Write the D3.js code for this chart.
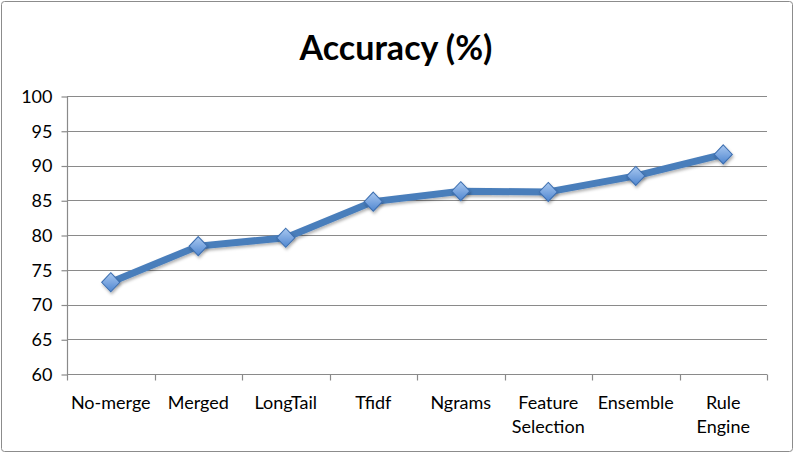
<!DOCTYPE html>
<html>
<head>
<meta charset="utf-8">
<script src="https://cdn.jsdelivr.net/npm/d3@7"></script>
<style>
  body { margin: 0; background: #fff; }
  svg text { font-family: Lato, "Open Sans", sans-serif; fill: #000; }
</style>
</head>
<body>
<script>
var categories = ["No-merge", "Merged", "LongTail", "Tfidf", "Ngrams", "Feature Selection", "Ensemble", "Rule Engine"];
var accuracy = [73.2, 78.4, 79.6, 84.8, 86.3, 86.2, 88.5, 91.6];
var yTicks = [60, 65, 70, 75, 80, 85, 90, 95, 100];

var width = 794, height = 453;
var plotLeft = 67, plotRight = 767, plotTop = 96, plotBottom = 374;

var svg = d3.select("body").append("svg")
    .attr("width", width)
    .attr("height", height);

var defs = svg.append("defs");
var grad = defs.append("linearGradient")
    .attr("id", "mk").attr("x1", 0).attr("y1", 0).attr("x2", 0).attr("y2", 1);
grad.append("stop").attr("offset", "0%").attr("stop-color", "#a9c8f0");
grad.append("stop").attr("offset", "100%").attr("stop-color", "#4f86d0");
var shadow = defs.append("filter").attr("id", "sh")
    .attr("x", "-50%").attr("y", "-50%").attr("width", "200%").attr("height", "200%");
shadow.append("feDropShadow").attr("dx", 1).attr("dy", 2).attr("stdDeviation", 1.5)
    .attr("flood-color", "#000").attr("flood-opacity", 0.3);

// outer frame
svg.append("rect")
    .attr("x", 1.5).attr("y", 1.5)
    .attr("width", width - 3).attr("height", height - 3)
    .attr("rx", 3)
    .attr("fill", "#fff").attr("stroke", "#8c8c8c");

var x = d3.scaleBand().domain(categories).range([plotLeft, plotRight]);
var y = d3.scaleLinear().domain([60, 100]).range([plotBottom, plotTop]);

// gridlines
svg.append("g").selectAll("line")
    .data(yTicks.slice(1))
    .enter().append("line")
    .attr("x1", plotLeft).attr("x2", plotRight)
    .attr("y1", function (d) { return Math.round(y(d)) + 0.5; })
    .attr("y2", function (d) { return Math.round(y(d)) + 0.5; })
    .attr("stroke", "#8a8a8a").attr("stroke-width", 1.2);

// y axis
var yAxis = svg.append("g")
    .attr("transform", "translate(" + (plotLeft + 0.5) + ",0.5)")
    .call(d3.axisLeft(y).tickValues(yTicks).tickSize(6).tickPadding(9));
yAxis.selectAll("line, path").attr("stroke", "#8a8a8a").attr("stroke-width", 1.2);
yAxis.selectAll("text").style("font-size", "18px").style("font-family", "Lato, sans-serif");
yAxis.select(".domain").attr("d", "M0," + plotTop + "V" + plotBottom);

// x axis with ticks at band boundaries
var xAxisG = svg.append("g").attr("transform", "translate(0," + (plotBottom + 0.5) + ")");
xAxisG.append("line")
    .attr("x1", plotLeft).attr("x2", plotRight)
    .attr("stroke", "#8a8a8a").attr("stroke-width", 1.2);
var bounds = categories.map(function (c) { return x(c); }).concat([plotRight]);
xAxisG.selectAll(".tk").data(bounds).enter().append("line")
    .attr("class", "tk")
    .attr("x1", function (d) { return Math.round(d) + 0.5; })
    .attr("x2", function (d) { return Math.round(d) + 0.5; })
    .attr("y1", 0).attr("y2", 6)
    .attr("stroke", "#8a8a8a").attr("stroke-width", 1.2);

var labels = xAxisG.selectAll(".lbl").data(categories).enter().append("text")
    .attr("class", "lbl")
    .attr("text-anchor", "middle")
    .style("font-size", "18px")
    .attr("transform", function (d) { return "translate(" + (x(d) + x.bandwidth() / 2) + ",34)"; });
labels.each(function (d) {
  var words = d.split(" ");
  var t = d3.select(this);
  words.forEach(function (w, i) {
    t.append("tspan").attr("x", 0).attr("dy", i === 0 ? 0 : 24).text(w);
  });
});

// line
var line = d3.line()
    .x(function (d, i) { return x(categories[i]) + x.bandwidth() / 2; })
    .y(function (d) { return y(d); });

svg.append("path")
    .datum(accuracy)
    .attr("d", line)
    .attr("fill", "none")
    .attr("stroke", "#4a7ebb")
    .attr("stroke-width", 7)
    .attr("stroke-linejoin", "round")
    .attr("filter", "url(#sh)");

svg.append("g").selectAll("path")
    .data(accuracy)
    .enter().append("path")
    .attr("d", d3.symbol().type(d3.symbolDiamond2).size(210))
    .attr("transform", function (d, i) {
      return "translate(" + (x(categories[i]) + x.bandwidth() / 2) + "," + y(d) + ") scale(1,1.05)";
    })
    .attr("fill", "url(#mk)")
    .attr("stroke", "#3d6fb0")
    .attr("stroke-width", 1)
    .attr("filter", "url(#sh)");

// title
svg.append("text")
    .attr("x", 396).attr("y", 60)
    .attr("text-anchor", "middle")
    .style("font-size", "34px")
    .style("font-weight", "bold")
    .text("Accuracy (%)");
</script>
</body>
</html>
